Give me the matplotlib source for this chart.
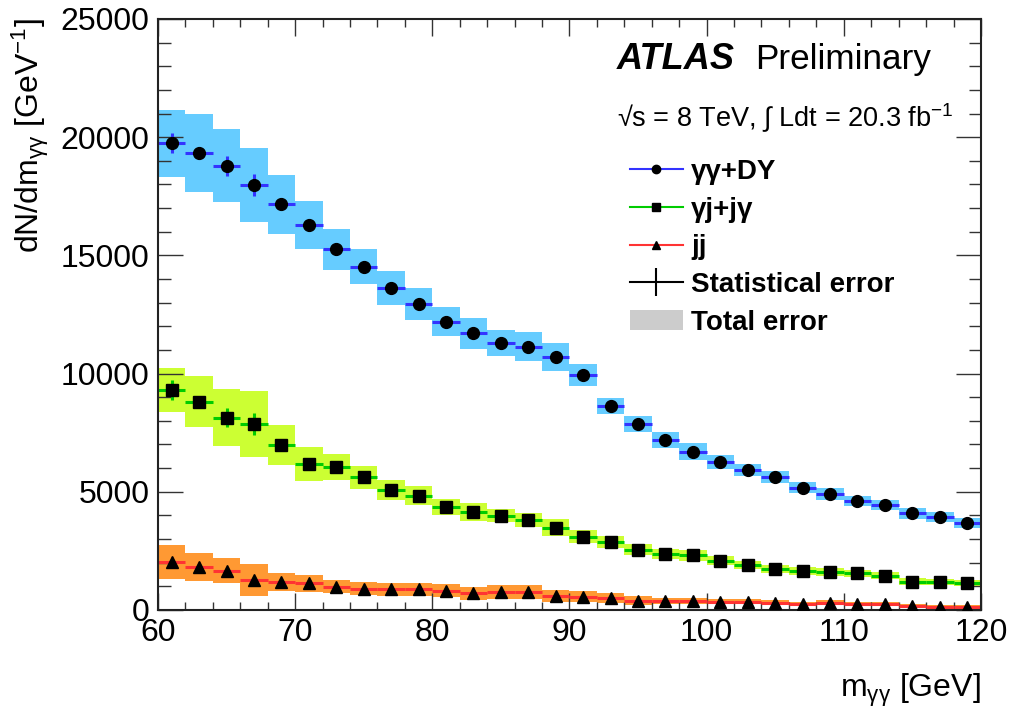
import numpy as np
import matplotlib
matplotlib.use("Agg")
import matplotlib.pyplot as plt
from matplotlib.lines import Line2D
from matplotlib.patches import Patch

plt.rcParams["font.family"] = ["Liberation Sans", "DejaVu Sans"]
plt.rcParams["mathtext.fontset"] = "custom"
plt.rcParams["mathtext.rm"] = "Liberation Sans"
plt.rcParams["mathtext.it"] = "Liberation Sans:italic"
plt.rcParams["mathtext.bf"] = "Liberation Sans:bold"

# bin edges of m_gg [GeV]
edges = np.arange(60, 122, 2)

# gamma-gamma + Drell-Yan
gg_val = [19740, 19320, 18790, 17980, 17160, 16290, 15250, 14520, 13610, 12940,
          12200, 11700, 11280, 11140, 10690, 9940, 8630, 7860, 7190, 6700,
          6260, 5920, 5640, 5170, 4910, 4620, 4440, 4090, 3920, 3670]
gg_tot = [1420, 1660, 1540, 1560, 1240, 1010, 870, 740, 710, 690,
          600, 670, 550, 610, 590, 480, 340, 350, 340, 370,
          300, 260, 250, 230, 250, 210, 210, 230, 210, 200]
gg_stat = [420, 230, 420, 460, 250, 200, 180, 170, 160, 150,
           150, 140, 140, 140, 130, 130, 120, 110, 110, 100,
           100, 100, 90, 90, 90, 90, 80, 80, 80, 80]

# gamma-jet + jet-gamma
gj_val = [9310, 8810, 8130, 7870, 6980, 6180, 6040, 5610, 5080, 4840,
          4370, 4150, 3980, 3810, 3480, 3100, 2860, 2540, 2370, 2310,
          2090, 1920, 1730, 1660, 1600, 1550, 1440, 1200, 1200, 1130]
gj_tot = [920, 1090, 1200, 1410, 840, 720, 550, 490, 430, 420,
          340, 370, 280, 300, 350, 270, 250, 230, 210, 230,
          200, 170, 170, 170, 160, 150, 150, 140, 130, 130]
gj_stat = [420, 250, 410, 460, 240, 200, 180, 170, 160, 150,
           140, 140, 130, 130, 120, 110, 110, 100, 100, 90,
           90, 90, 80, 80, 80, 80, 70, 70, 70, 70]

# jet-jet
jj_val = [2030, 1830, 1650, 1270, 1170, 1130, 990, 900, 880, 880,
          820, 710, 760, 760, 590, 560, 500, 390, 380, 380,
          350, 350, 310, 250, 310, 250, 250, 170, 140, 140]
jj_tot = [700, 590, 530, 670, 380, 350, 280, 280, 270, 270,
          280, 280, 280, 280, 250, 230, 200, 180, 140, 120,
          110, 110, 100, 100, 100, 90, 90, 90, 80, 80]
jj_stat = [200, 180, 170, 150, 140, 130, 120, 110, 110, 100,
           100, 90, 90, 90, 80, 80, 70, 70, 60, 60,
           60, 60, 50, 50, 50, 50, 40, 40, 40, 40]

series = [
    (gg_val, gg_tot, gg_stat, "#66ccff", "#3333ff", "o", "γγ+DY"),
    (gj_val, gj_tot, gj_stat, "#ccff33", "#00cc00", "s", "γj+jγ"),
    (jj_val, jj_tot, jj_stat, "#ff9933", "#ff3333", "^", "jj"),
]

fig = plt.figure(figsize=(10.14, 7.15), dpi=100)
ax = fig.add_axes([0.1558, 0.1469, 0.8116, 0.8266])

centers = 0.5 * (edges[:-1] + edges[1:])
halfw = 0.5 * np.diff(edges)

handles = []
for val, tot, stat, band_c, line_c, mk, lab in series:
    val = np.array(val)
    tot = np.array(tot)
    # total error band
    ax.stairs(val + tot, edges, baseline=val - tot, fill=True,
              color=band_c, lw=0, zorder=1)
    # stat error + bin width
    ax.errorbar(centers, val, xerr=halfw, yerr=stat, fmt="none",
                ecolor=line_c, elinewidth=2.2, capsize=0, zorder=2)
    ax.plot(centers, val, ls="none", marker=mk, ms=8.5, color="black",
            zorder=3)
    handles.append(Line2D([], [], color=line_c, lw=1.5, marker=mk,
                          ms=6, mfc="black", mec="black", label=lab))

handles.append(Line2D([], [], color="black", lw=1.5, marker="|", ms=20,
                      mew=1.5, label="Statistical error"))
handles.append(Patch(facecolor="#cccccc", edgecolor="none", label="Total error"))

ax.set_xlim(60, 120)
ax.set_ylim(0, 25000)
ax.set_xticks(np.arange(60, 121, 10))
ax.set_xticks(np.arange(60, 121, 2), minor=True)
ax.set_yticks(np.arange(0, 25001, 5000))
ax.set_yticks(np.arange(0, 25001, 1000), minor=True)

ax.tick_params(which="both", direction="in", top=True, right=True,
               labelsize=23, width=1, color="#333333")
ax.tick_params(axis="y", which="major", length=18, pad=6)
ax.tick_params(axis="y", which="minor", length=9)
ax.tick_params(axis="x", which="major", length=12, pad=6)
ax.tick_params(axis="x", which="minor", length=6)
for s in ax.spines.values():
    s.set_linewidth(1.5)
    s.set_color("#222222")

fig.text(0.9675, 1 - 690 / 715, r"m$_{\mathrm{γγ}}$ [GeV]", fontsize=23,
         ha="right", va="center")
fig.text(0.030, 0.975, r"dN/dm$_{\mathrm{γγ}}$ [GeV$^{\mathrm{-1}}$]",
         fontsize=23, rotation=90, ha="center", va="top")

fig.text(617 / 1014, 1 - 69 / 715, "ATLAS", fontsize=26, fontweight="bold",
         style="italic", ha="left", va="baseline")
fig.text(755 / 1014, 1 - 69 / 715, "Preliminary", fontsize=25.3,
         ha="left", va="baseline")
fig.text(617 / 1014, 1 - 127 / 715,
         r"√s = 8 TeV, ∫ Ldt = 20.3 fb$^{\mathrm{-1}}$", fontsize=19.5,
         ha="left", va="baseline")

leg = ax.legend(handles=handles, loc="upper left",
                bbox_to_anchor=(630 / 1014, 1 - 159 / 715),
                bbox_transform=fig.transFigure, frameon=False,
                prop={"size": 20, "weight": "bold"},
                handlelength=1.9, handletextpad=0.3, labelspacing=0.42,
                borderpad=0, borderaxespad=0)

fig.savefig("out.png", dpi=100)
